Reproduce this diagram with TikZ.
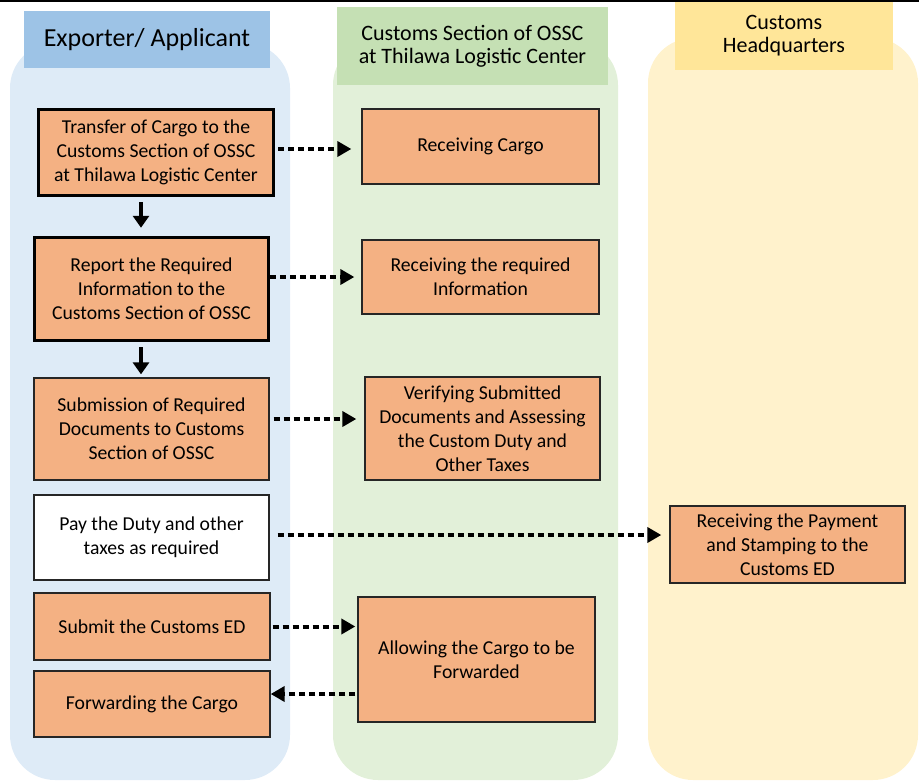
\documentclass[tikz,border=0pt]{standalone}
\usepackage{fontspec}
\setmainfont{Carlito}
\usetikzlibrary{arrows.meta}
\definecolor{laneblue}{HTML}{DEEBF7}
\definecolor{headblue}{HTML}{9DC3E6}
\definecolor{lanegreen}{HTML}{E2F0D9}
\definecolor{headgreen}{HTML}{C5E0B4}
\definecolor{laneyellow}{HTML}{FFF2CC}
\definecolor{headyellow}{HTML}{FFE699}
\definecolor{boxorange}{HTML}{F4B183}
\definecolor{boxline}{HTML}{262626}
\begin{document}
\begin{tikzpicture}[x=1pt,y=-1pt,
  box/.style={draw=boxline, line width=1.3pt, fill=boxorange, align=center,
    font=\fontsize{19.7}{24}\selectfont, inner sep=0pt},
  thickbox/.style={box, draw=black, line width=3.5pt},
  whitebox/.style={box, fill=white},
  header/.style={align=center, inner sep=0pt},
  lane/.style={rounded corners=45pt},
  dasharrow/.style={line width=4pt, dash pattern=on 6pt off 4pt,
    -{Triangle[length=14pt,width=15pt]}},
  downarrow/.style={line width=4pt, -{Triangle[length=12pt,width=16pt]}}
]
\useasboundingbox (0,0) rectangle (919,780);
\draw[line width=2pt] (0,1) -- (919,1);

% lanes
\fill[laneblue, lane] (10,43) rectangle (290,780);
\fill[lanegreen, lane] (333,40) rectangle (618,780);
\fill[laneyellow, lane] (648,38) rectangle (918,780);

% headers
\node[header, fill=headblue, minimum width=246pt, minimum height=57pt,
  font=\fontsize{26}{30}\selectfont] (h1) at (147,39.5) {Exporter/ Applicant};
\node[header, fill=headgreen, minimum width=271pt, minimum height=78pt,
  font=\fontsize{22}{23}\selectfont] (h2) at (472.5,46) {Customs Section of OSSC\\at Thilawa Logistic Center};
\node[header, fill=headyellow, minimum width=218pt, minimum height=68pt,
  font=\fontsize{22}{23}\selectfont] (h3) at (784,35.5) {Customs\\Headquarters};

% boxes
\node[thickbox, minimum width=235pt, minimum height=86pt] (b1) at (156,152.5)
  {Transfer of Cargo to the\\Customs Section of OSSC\\at Thilawa Logistic Center};
\node[box, minimum width=237pt, minimum height=75pt] (b2) at (480.5,146.5)
  {Receiving Cargo};
\node[thickbox, minimum width=234pt, minimum height=103pt] (b3) at (151.5,289)
  {Report the Required\\Information to the\\Customs Section of OSSC};
\node[box, minimum width=237pt, minimum height=74pt] (b4) at (480.5,277)
  {Receiving the required\\Information};
\node[box, minimum width=235pt, minimum height=102pt] (b5) at (151.5,429)
  {Submission of Required\\Documents to Customs\\Section of OSSC};
\node[box, minimum width=235pt, minimum height=103pt] (b6) at (482.5,428.5)
  {Verifying Submitted\\Documents and Assessing\\the Custom Duty and\\Other Taxes};
\node[whitebox, minimum width=235pt, minimum height=85pt] (b7) at (151.5,537.5)
  {Pay the Duty and other\\taxes as required};
\node[box, minimum width=235pt, minimum height=77pt] (b8) at (787.5,544.5)
  {Receiving the Payment\\and Stamping to the\\Customs ED};
\node[box, minimum width=236pt, minimum height=67pt] (b9) at (152,626.5)
  {Submit the Customs ED};
\node[box, minimum width=237pt, minimum height=125pt] (b10) at (476.5,659.5)
  {Allowing the Cargo to be\\Forwarded};
\node[box, minimum width=236pt, minimum height=66pt] (b11) at (152,704)
  {Forwarding the Cargo};

% down arrows
\draw[downarrow, shorten <=5pt, shorten >=8pt]
  ([xshift=-15pt]b1.south) -- ([xshift=-15pt]b1.south |- b3.north);
\draw[downarrow, shorten <=5pt, shorten >=3pt]
  ([xshift=-10.5pt]b3.south) -- ([xshift=-10.5pt]b3.south |- b5.north);

% dashed arrows
\draw[dasharrow, shorten <=3pt, shorten >=10pt]
  ([yshift=3.5pt]b1.east) -- ([yshift=3.5pt]b1.east -| b2.west);
\draw[dasharrow, shorten <=0pt, shorten >=7pt]
  (b3.east |- b4.west) -- (b4.west);
\draw[dasharrow, shorten <=4pt, shorten >=8pt]
  ([yshift=10pt]b5.east) -- ([yshift=10pt]b5.east -| b6.west);
\draw[dasharrow, shorten <=8pt, shorten >=8pt]
  ([yshift=2.5pt]b7.east) -- ([yshift=2.5pt]b7.east -| b8.west);
\draw[dasharrow, shorten <=2pt, shorten >=2pt]
  (b9.east) -- (b9.east -| b10.west);
\draw[dasharrow, shorten <=2pt, shorten >=0pt]
  ([yshift=10pt]b10.west |- b11.east) -- ([yshift=10pt]b11.east);
\end{tikzpicture}
\end{document}
